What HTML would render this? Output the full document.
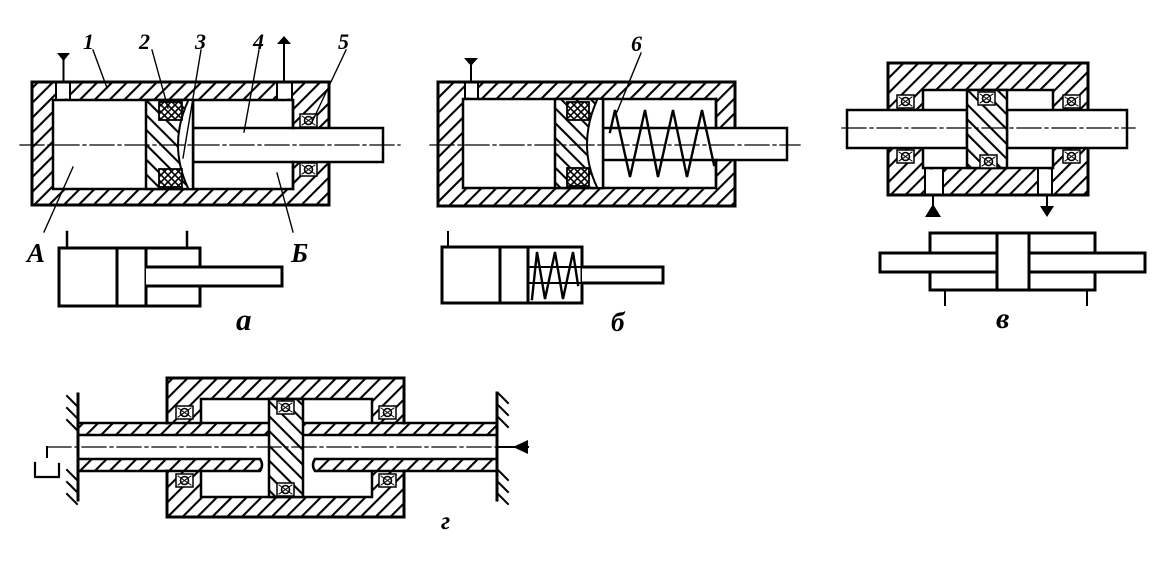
<!DOCTYPE html>
<html><head><meta charset="utf-8"><style>
html,body{margin:0;padding:0;background:#fff;}
svg{display:block;}
text{font-family:"Liberation Serif",serif;font-style:italic;font-weight:bold;fill:#000;}
</style></head><body>
<svg width="1165" height="588" viewBox="0 0 1165 588" xmlns="http://www.w3.org/2000/svg">
<defs>
<pattern id="hf" width="10.5" height="10.5" patternUnits="userSpaceOnUse" patternTransform="rotate(45)"><rect width="10.5" height="10.5" fill="#fff"/><line x1="1" y1="0" x2="1" y2="10.5" stroke="#000" stroke-width="2.2"/></pattern>
<pattern id="hb" width="10.5" height="10.5" patternUnits="userSpaceOnUse" patternTransform="rotate(-45)"><rect width="10.5" height="10.5" fill="#fff"/><line x1="1" y1="0" x2="1" y2="10.5" stroke="#000" stroke-width="2.2"/></pattern>
<pattern id="hx" width="7" height="7" patternUnits="userSpaceOnUse"><rect width="7" height="7" fill="#fff"/><path d="M0,0 L7,7 M7,0 L0,7" stroke="#000" stroke-width="1.6"/></pattern>
<g id="seal"><rect x="0" y="0" width="17" height="13" fill="#fff" stroke="#000" stroke-width="1.5"/><circle cx="8.5" cy="6.5" r="4" fill="none" stroke="#000" stroke-width="1.6"/><path d="M2,2 L15,11 M15,2 L2,11" stroke="#000" stroke-width="1"/></g>
</defs>

<g fill="none" stroke="#000" stroke-linecap="square">

<!-- ===== a: main cylinder ===== -->
<rect x="32" y="82" width="297" height="123" fill="url(#hf)" stroke-width="3"/>
<rect x="53" y="100" width="240" height="89" fill="#fff" stroke-width="2.5"/>
<rect x="56" y="83.5" width="14" height="15" fill="#fff" stroke="none"/>
<line x1="56" y1="82" x2="56" y2="100" stroke-width="2"/><line x1="70" y1="82" x2="70" y2="100" stroke-width="2"/>
<rect x="277" y="83.5" width="15" height="15" fill="#fff" stroke="none"/>
<line x1="277" y1="82" x2="277" y2="100" stroke-width="2"/><line x1="292" y1="82" x2="292" y2="100" stroke-width="2"/>
<polygon points="57,53 70,53 63.5,61" fill="#000" stroke="none"/><line x1="63.5" y1="60" x2="63.5" y2="82" stroke-width="2"/>
<polygon points="277,44 291,44 284,36" fill="#000" stroke="none"/><line x1="284" y1="44" x2="284" y2="82" stroke-width="2"/>
<rect x="193" y="128" width="190" height="34" fill="#fff" stroke-width="2.5"/>
<line x1="293" y1="100" x2="293" y2="128" stroke-width="2.5"/><line x1="293" y1="162" x2="293" y2="189" stroke-width="2.5"/>
<use href="#seal" x="300" y="114"/><use href="#seal" x="300" y="163"/>
<rect x="146" y="100" width="47" height="89" fill="url(#hb)" stroke-width="2.5"/>
<path d="M193,101 L188,101 Q168,145 188,188 L193,188 Z" fill="#fff" stroke="none"/>
<path d="M188,101 Q168,145 188,188" stroke-width="2"/>
<line x1="193" y1="100" x2="193" y2="189" stroke-width="2.5"/>
<rect x="159" y="102" width="23" height="18" fill="url(#hx)" stroke-width="1.8"/>
<rect x="159" y="169" width="23" height="18" fill="url(#hx)" stroke-width="1.8"/>
<line x1="20" y1="145" x2="400" y2="145" stroke-width="1.3" stroke-dasharray="24 4 3 4"/>
<g stroke-width="1.4">
<line x1="93" y1="50" x2="107" y2="88"/>
<line x1="152" y1="50" x2="168" y2="108"/>
<line x1="201" y1="50" x2="183" y2="158"/>
<line x1="259" y1="50" x2="244" y2="132"/>
<line x1="346" y1="50" x2="313" y2="120"/>
<line x1="44" y1="232" x2="73" y2="167"/>
<line x1="293" y1="232" x2="277" y2="173"/>
</g>
<rect x="59" y="248" width="141" height="58" fill="#fff" stroke-width="3"/>
<line x1="117" y1="248" x2="117" y2="306" stroke-width="3"/>
<line x1="146" y1="248" x2="146" y2="306" stroke-width="3"/>
<path d="M146,267 H282 V286 H146" fill="#fff" stroke-width="3"/>
<line x1="67" y1="232" x2="67" y2="248" stroke-width="2.5"/>
<line x1="187" y1="232" x2="187" y2="248" stroke-width="2.5"/>

<!-- ===== б ===== -->
<rect x="438" y="82" width="297" height="124" fill="url(#hf)" stroke-width="3"/>
<rect x="463" y="99" width="253" height="89" fill="#fff" stroke-width="2.5"/>
<rect x="465" y="83.5" width="13" height="14" fill="#fff" stroke="none"/>
<line x1="465" y1="82" x2="465" y2="99" stroke-width="2"/><line x1="478" y1="82" x2="478" y2="99" stroke-width="2"/>
<polygon points="464,58 478,58 471,66" fill="#000" stroke="none"/><line x1="471" y1="65" x2="471" y2="82" stroke-width="2"/>
<rect x="603" y="128" width="184" height="32" fill="#fff" stroke-width="2.5"/>
<line x1="716" y1="99" x2="716" y2="128" stroke-width="2.5"/><line x1="716" y1="160" x2="716" y2="188" stroke-width="2.5"/>
<rect x="555" y="99" width="48" height="89" fill="url(#hb)" stroke-width="2.5"/>
<path d="M603,100 L597,100 Q577,145 597,187 L603,187 Z" fill="#fff" stroke="none"/>
<path d="M597,100 Q577,145 597,187" stroke-width="2"/>
<line x1="603" y1="99" x2="603" y2="188" stroke-width="2.5"/>
<rect x="567" y="102" width="22" height="18" fill="url(#hx)" stroke-width="1.8"/>
<rect x="567" y="168" width="22" height="18" fill="url(#hx)" stroke-width="1.8"/>
<polyline points="610,132 615,110 630,177 645,110 658,177 673,110 687,177 702,110 714,165" stroke-width="2.4" stroke-linejoin="miter"/>
<line x1="430" y1="145" x2="800" y2="145" stroke-width="1.3" stroke-dasharray="24 4 3 4"/>
<line x1="641" y1="53" x2="617" y2="112" stroke-width="1.4"/>
<rect x="442" y="247" width="140" height="56" fill="#fff" stroke-width="3"/>
<line x1="500" y1="247" x2="500" y2="303" stroke-width="3"/>
<line x1="528" y1="247" x2="528" y2="303" stroke-width="3"/>
<path d="M582,267 H663 V283 H582" fill="#fff" stroke-width="3"/>
<line x1="528" y1="267" x2="582" y2="267" stroke-width="2"/>
<line x1="528" y1="283" x2="582" y2="283" stroke-width="2"/>
<polyline points="532,299 537,252 545,299 555,252 563,299 573,252 578,285" stroke-width="2.4"/>
<line x1="448" y1="232" x2="448" y2="247" stroke-width="2"/>

<!-- ===== в ===== -->
<rect x="888" y="63" width="200" height="132" fill="url(#hf)" stroke-width="3"/>
<rect x="923" y="90" width="130" height="78" fill="#fff" stroke-width="2.5"/>
<rect x="925" y="169.5" width="18" height="24" fill="#fff" stroke="none"/>
<line x1="925" y1="168" x2="925" y2="195" stroke-width="2"/><line x1="943" y1="168" x2="943" y2="195" stroke-width="2"/>
<rect x="1038" y="169.5" width="14" height="24" fill="#fff" stroke="none"/>
<line x1="1038" y1="168" x2="1038" y2="195" stroke-width="2"/><line x1="1052" y1="168" x2="1052" y2="195" stroke-width="2"/>
<rect x="847" y="110" width="120" height="38" fill="#fff" stroke-width="2.5"/>
<rect x="1007" y="110" width="120" height="38" fill="#fff" stroke-width="2.5"/>
<rect x="967" y="90" width="40" height="78" fill="url(#hb)" stroke-width="2.5"/>
<use href="#seal" x="978" y="92"/><use href="#seal" x="980" y="155"/>
<use href="#seal" x="897" y="95"/><use href="#seal" x="897" y="150"/>
<use href="#seal" x="1063" y="95"/><use href="#seal" x="1063" y="150"/>
<line x1="842" y1="128" x2="1135" y2="128" stroke-width="1.3" stroke-dasharray="24 4 3 4"/>
<line x1="933" y1="195" x2="933" y2="206" stroke-width="2"/><polygon points="925,217 941,217 933,204" fill="#000" stroke="none"/>
<line x1="1047" y1="195" x2="1047" y2="207" stroke-width="2"/><polygon points="1040,206 1054,206 1047,217" fill="#000" stroke="none"/>
<rect x="930" y="233" width="165" height="57" fill="#fff" stroke-width="3"/>
<path d="M997,253 H880 V272 H997" fill="#fff" stroke-width="3"/>
<path d="M1029,253 H1145 V272 H1029" fill="#fff" stroke-width="3"/>
<line x1="997" y1="233" x2="997" y2="290" stroke-width="3"/>
<line x1="1029" y1="233" x2="1029" y2="290" stroke-width="3"/>
<line x1="945" y1="290" x2="945" y2="305" stroke-width="2"/>
<line x1="1087" y1="290" x2="1087" y2="305" stroke-width="2"/>

<!-- ===== г ===== -->
<rect x="167" y="378" width="237" height="139" fill="url(#hf)" stroke="none"/>
<rect x="201" y="399" width="171" height="98" fill="#fff" stroke="none"/>
<rect x="165" y="423" width="241" height="48" fill="#fff" stroke="none"/>
<path d="M201,423 V399 H372 V423 M372,471 V497 H201 V471" stroke-width="2.5"/>
<rect x="78" y="423" width="419" height="12" fill="url(#hf)" stroke-width="2.5"/>
<path d="M78,459 H260 Q264,465 260,471 H78 Z" fill="url(#hf)" stroke-width="2.5"/>
<path d="M497,459 H315 Q311,465 315,471 H497 Z" fill="url(#hf)" stroke-width="2.5"/>
<rect x="269" y="399" width="34" height="98" fill="url(#hb)" stroke-width="2.5"/>
<use href="#seal" x="277" y="401"/><use href="#seal" x="277" y="483"/>
<use href="#seal" x="176" y="406"/><use href="#seal" x="176" y="474"/>
<use href="#seal" x="379" y="406"/><use href="#seal" x="379" y="474"/>
<path d="M167,423 V378 H404 V423 M404,471 V517 H167 V471" stroke-width="3"/>
<line x1="78" y1="394" x2="78" y2="500" stroke-width="3"/>
<path d="M67,396 L77,406 M67,408 L77,418 M67,420 L77,430 M67,470 L77,480 M67,482 L77,492 M67,494 L77,504" stroke-width="2"/>
<line x1="497" y1="393" x2="497" y2="500" stroke-width="3"/>
<path d="M498,393 L508,403 M498,405 L508,415 M498,417 L508,427 M498,470 L508,480 M498,482 L508,492 M498,494 L508,504" stroke-width="2"/>
<line x1="47" y1="447" x2="513" y2="447" stroke-width="1.3" stroke-dasharray="24 4 3 4"/>
<line x1="497" y1="447" x2="528" y2="447" stroke-width="2"/>
<polygon points="513,447 528,440 528,454" fill="#000" stroke="none"/>
<line x1="47" y1="447" x2="47" y2="457" stroke-width="2"/>
<path d="M35,463 V477 H59 V464" stroke-width="2.2"/>
</g>

<text x="83" y="49" font-size="22">1</text>
<text x="139" y="49" font-size="22">2</text>
<text x="195" y="49" font-size="22">3</text>
<text x="253" y="49" font-size="22">4</text>
<text x="338" y="49" font-size="22">5</text>
<text x="631" y="51" font-size="22">6</text>
<text x="27" y="262" font-size="27">A</text>
<text x="291" y="262" font-size="27">Б</text>
<text x="236" y="330" font-size="31">а</text>
<text x="611" y="331" font-size="27">б</text>
<text x="996" y="328" font-size="30">в</text>
<text x="441" y="529" font-size="25">г</text>
</svg>
</body></html>
